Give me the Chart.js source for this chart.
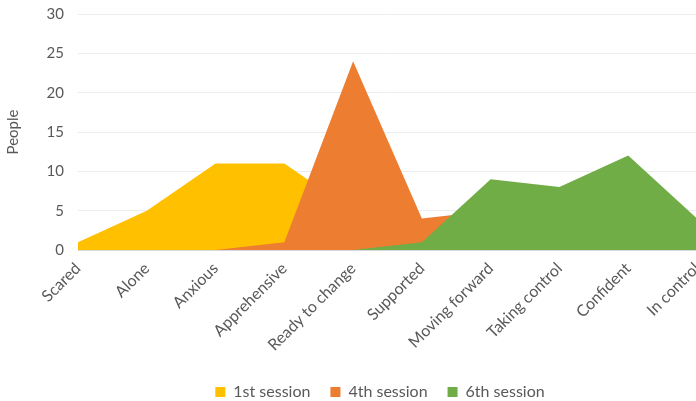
<!DOCTYPE html>
<html>
<head>
<meta charset="utf-8">
<script src="https://cdn.jsdelivr.net/npm/chart.js@4"></script>
<style>
  body { margin: 0; overflow: hidden; background: #fff; }
  #wrap { width: 760px; height: 401px; }
</style>
</head>
<body>
<div id="wrap"><canvas id="chart"></canvas></div>
<script>
const categories = ['Scared', 'Alone', 'Anxious', 'Apprehensive', 'Ready to change', 'Supported', 'Moving forward', 'Taking control', 'Confident', 'In control'];
const session1 = [1, 5, 11, 11, 5, 0, 0, 0, 0, 0];
const session4 = [0, 0, 0, 1, 24, 4, 5, 0, 0, 0];
const session6 = [0, 0, 0, 0, 0, 1, 9, 8, 12, 4];
const yTicks = [0, 5, 10, 15, 20, 25, 30];

Chart.defaults.font.family = 'Lato, "Open Sans", sans-serif';
Chart.defaults.color = '#595959';

// later sessions are painted over earlier ones (lower order = on top)
function series(label, data, color, order) {
    return {
        label: label,
        data: data,
        backgroundColor: color,
        borderColor: color,
        borderWidth: 0,
        pointRadius: 0,
        fill: 'origin',
        tension: 0,
        order: order
    };
}

new Chart(document.getElementById('chart'), {
    type: 'line',
    data: {
        labels: categories,
        datasets: [
            series('1st session', session1, '#FFC000', 3),
            series('4th session', session4, '#ED7D31', 2),
            series('6th session', session6, '#70AD47', 1)
        ]
    },
    options: {
        responsive: true,
        maintainAspectRatio: false,
        animation: false,
        layout: { padding: { top: 0, right: 0, left: 0, bottom: -9 } },
        plugins: {
            legend: {
                position: 'bottom',
                labels: {
                    boxWidth: 10, boxHeight: 10, font: { size: 16 }, padding: 20,
                    sort: (a, b) => a.datasetIndex - b.datasetIndex
                }
            },
            tooltip: { enabled: false }
        },
        scales: {
            x: {
                offset: false,
                grid: { display: false, drawTicks: false },
                border: { color: '#d9d9d9' },
                ticks: { minRotation: 45, maxRotation: 45, font: { size: 16 }, padding: 9 },
                afterFit: s => { s.height = 114; }
            },
            y: {
                min: 0,
                max: 30,
                afterBuildTicks: axis => { axis.ticks = yTicks.map(v => ({ value: v })); },
                grid: { color: '#ececec', drawTicks: false },
                border: { display: false },
                ticks: { font: { size: 15 }, padding: 14 },
                title: { display: true, text: 'People', font: { size: 15 }, padding: 4 },
                afterFit: s => { s.width = 78; s.paddingTop = 14; }
            },
            // empty right-hand strip: the reference plot is cut off at the window edge
            yRight: {
                display: true,
                position: 'right',
                grid: { display: false },
                border: { display: false },
                ticks: { display: false },
                afterFit: s => { s.width = 63; s.paddingTop = 0; }
            }
        }
    }
});
</script>
</body>
</html>
